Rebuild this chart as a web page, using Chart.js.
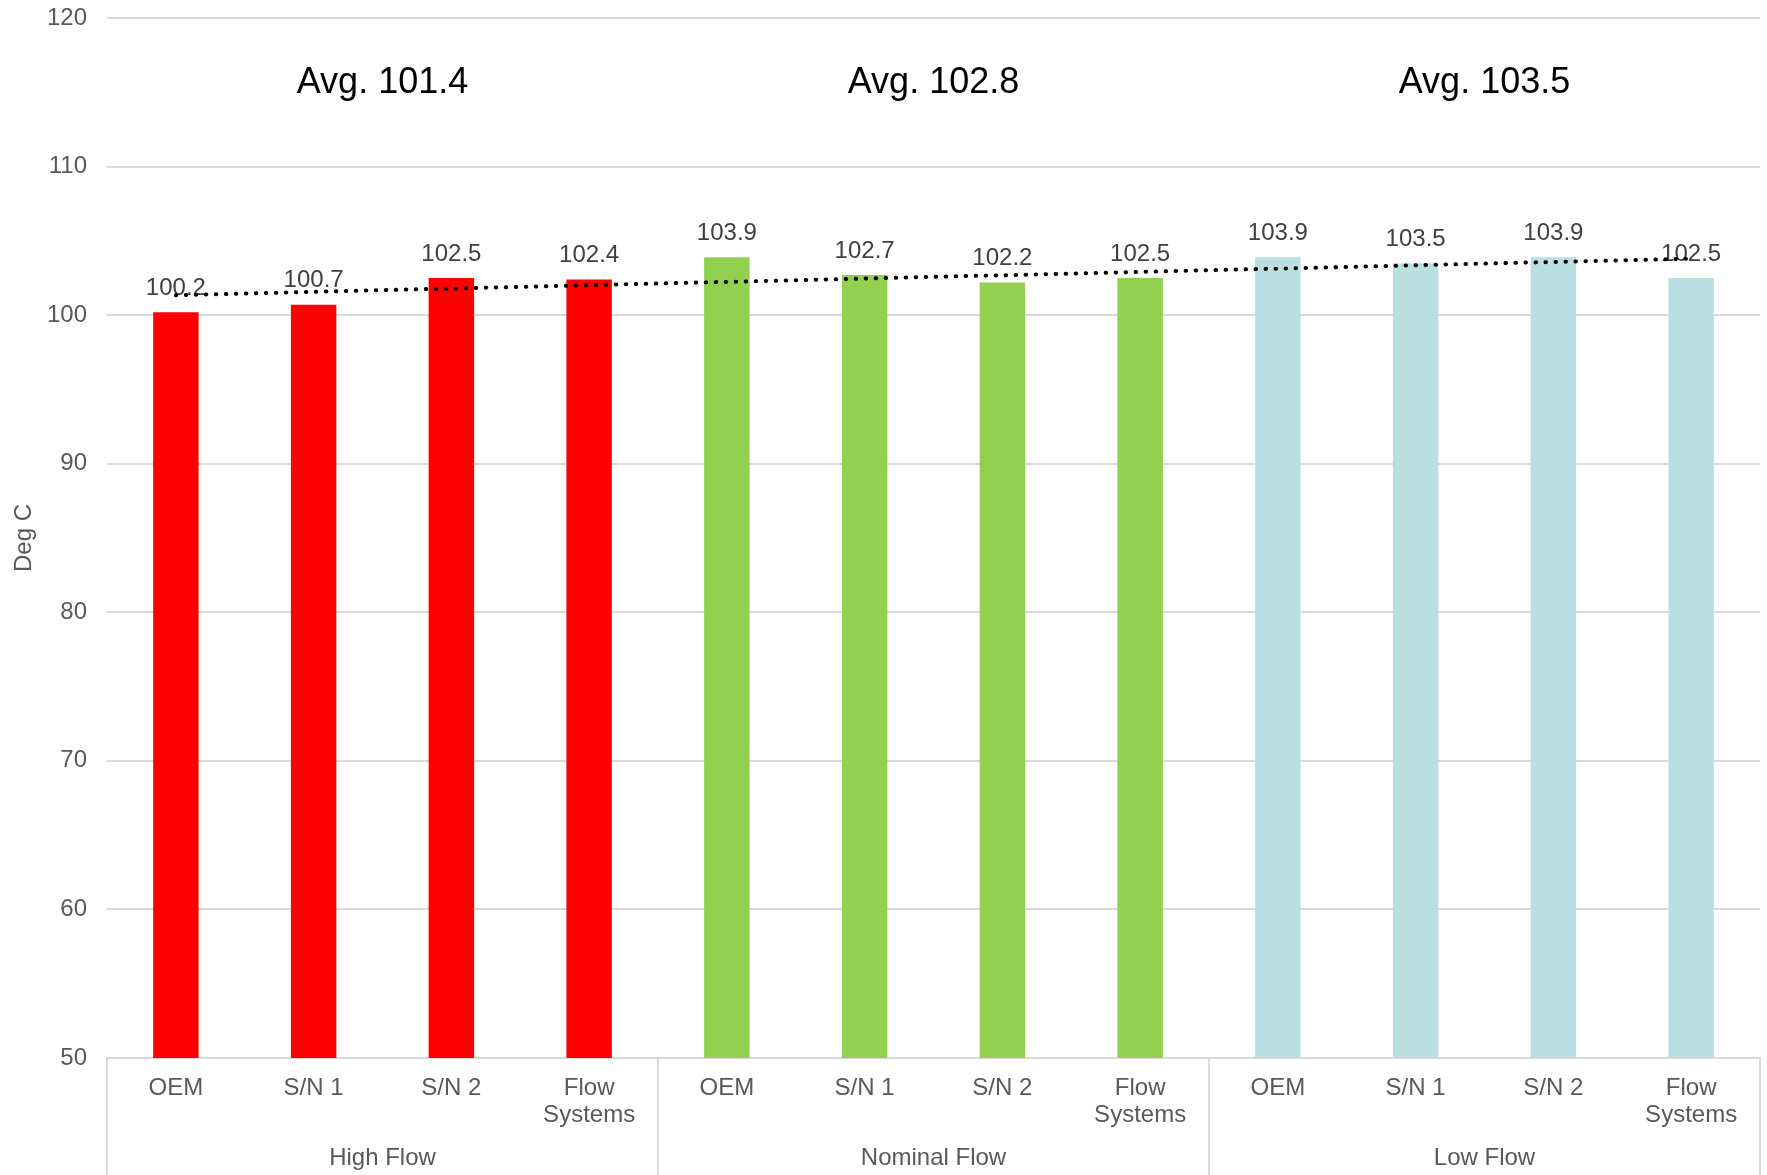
<!DOCTYPE html>
<html>
<head>
<meta charset="utf-8">
<script src="https://cdn.jsdelivr.net/npm/chart.js@4.4.1/dist/chart.umd.min.js"></script>
<style>
    html, body { margin: 0; padding: 0; background: #fff; }
    #wrap { width: 1767px; height: 1175px; }
</style>
</head>
<body>
<div id="wrap"><canvas id="tempChart" width="1767" height="1175"></canvas></div>
<script>
// Flow conditions (outer axis level) and units tested in each (inner level)
const groups = ['High Flow', 'Nominal Flow', 'Low Flow'];
const units = ['OEM', 'S/N 1', 'S/N 2', 'Flow Systems'];

// Temperature readings, Deg C
const highFlow = [100.2, 100.7, 102.5, 102.4];
const nominalFlow = [103.9, 102.7, 102.2, 102.5];
const lowFlow = [103.9, 103.5, 103.9, 102.5];

// Group averages shown above each block
const groupAvg = [101.4, 102.8, 103.5];

const groupColors = ['#ff0000', '#92d050', '#b9dfe3'];

const yMin = 50, yMax = 120, yStep = 10;

const FONT = '"Liberation Sans", Arial, sans-serif';

const labels = groups.flatMap(() => units);
const values = [...highFlow, ...nominalFlow, ...lowFlow];
const barColors = groups.flatMap((g, i) => units.map(() => groupColors[i]));

// linear trendline through all readings (least squares)
function trend(ys) {
    const n = ys.length;
    const mx = (n - 1) / 2;
    const my = ys.reduce((a, b) => a + b, 0) / n;
    let sxy = 0, sxx = 0;
    ys.forEach((y, i) => { sxy += (i - mx) * (y - my); sxx += (i - mx) * (i - mx); });
    const slope = sxy / sxx;
    return ys.map((y, i) => my + slope * (i - mx));
}

// value labels above bars, drawn before the trendline so the dots sit on top
const barLabels = {
    id: 'barLabels',
    afterDatasetDraw(chart, args) {
        if (args.index !== 0) return;
        const ctx = chart.ctx;
        ctx.save();
        ctx.font = '24px ' + FONT;
        ctx.fillStyle = '#404040';
        ctx.textAlign = 'center';
        ctx.textBaseline = 'middle';
        args.meta.data.forEach((bar, i) => {
            ctx.fillText(values[i].toFixed(1), bar.x, bar.y - 24);
        });
        ctx.restore();
    }
};

// group separators under the axis and the "Avg." headings
const groupDecor = {
    id: 'groupDecor',
    afterDraw(chart) {
        const ctx = chart.ctx;
        const x = chart.scales.x;
        const y = chart.scales.y;
        const per = units.length / labels.length;
        ctx.save();
        ctx.strokeStyle = '#d9d9d9';
        ctx.lineWidth = 2;
        for (let k = 0; k <= groups.length; k++) {
            const px = Math.round(x.left + x.width * per * k);
            ctx.beginPath();
            ctx.moveTo(px, x.top);
            ctx.lineTo(px, chart.height);
            ctx.stroke();
        }
        ctx.font = '36px ' + FONT;
        ctx.fillStyle = '#000';
        ctx.textAlign = 'center';
        ctx.textBaseline = 'middle';
        groups.forEach((g, k) => {
            const cx = x.left + x.width * per * (k + 0.5);
            ctx.fillText('Avg. ' + groupAvg[k].toFixed(1), cx, y.getPixelForValue(115.6));
        });
        ctx.restore();
    }
};

new Chart(document.getElementById('tempChart'), {
    type: 'bar',
    data: {
        labels: labels,
        datasets: [{
            label: 'Temperature',
            data: values,
            backgroundColor: barColors,
            categoryPercentage: 1,
            barPercentage: 0.33,
            order: 1
        }, {
            type: 'line',
            label: 'Linear trend',
            data: trend(values),
            borderColor: '#000',
            borderWidth: 4,
            borderDash: [0.5, 9.5],
            borderCapStyle: 'round',
            pointRadius: 0,
            fill: false,
            order: 0
        }]
    },
    options: {
        responsive: false,
        animation: false,
        layout: { padding: { left: 10, right: 7, top: 18, bottom: 0 } },
        plugins: {
            legend: { display: false },
            tooltip: { enabled: false }
        },
        scales: {
            y: {
                min: yMin,
                max: yMax,
                ticks: {
                    stepSize: yStep,
                    padding: 3,
                    color: '#595959',
                    font: { family: FONT, size: 24 }
                },
                // invisible tick marks keep the labels clear of the plot edge
                grid: { color: '#d9d9d9', lineWidth: 2, drawTicks: true, tickLength: 17, tickColor: 'rgba(0,0,0,0)' },
                border: { display: false },
                title: {
                    display: true,
                    text: 'Deg C',
                    color: '#595959',
                    font: { family: FONT, size: 24 },
                    padding: 0
                },
                afterFit(scale) { scale.width = 97; }
            },
            x: {
                offset: true,
                ticks: {
                    autoSkip: false,
                    maxRotation: 0,
                    padding: 9,
                    color: '#595959',
                    font: { family: FONT, size: 24, lineHeight: 1.12 },
                    callback(v) {
                        const t = this.getLabelForValue(v);
                        return t === 'Flow Systems' ? ['Flow', 'Systems'] : t;
                    }
                },
                grid: { display: false },
                border: { color: '#d9d9d9', width: 2 },
                afterFit(scale) { scale.height = 78; }
            },
            groups: {
                type: 'category',
                position: 'bottom',
                labels: groups,
                offset: true,
                ticks: {
                    padding: 0,
                    color: '#595959',
                    font: { family: FONT, size: 24 }
                },
                grid: { display: false },
                border: { display: false },
                afterFit(scale) { scale.height = 39; }
            }
        }
    },
    plugins: [barLabels, groupDecor]
});
</script>
</body>
</html>
